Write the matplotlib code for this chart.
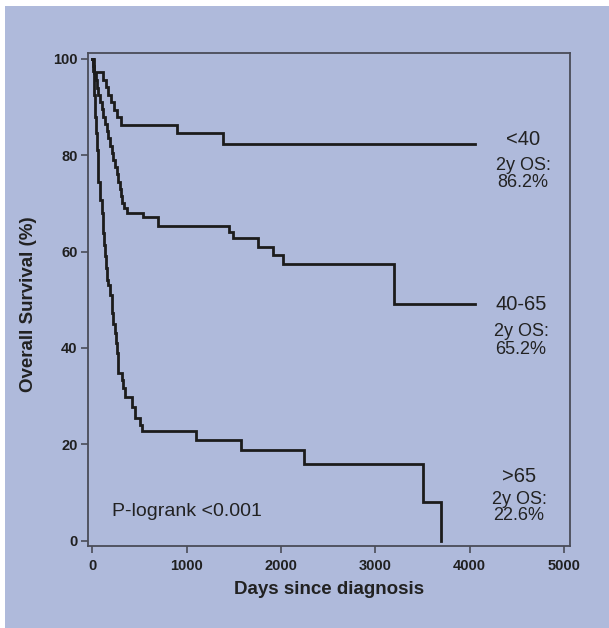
import matplotlib
matplotlib.use("Agg")
import matplotlib.pyplot as plt
from matplotlib.patches import Rectangle

# Kaplan-Meier step data (days, survival % after event)
days_lt40 = [0, 15, 117, 140, 165, 195, 230, 265, 305, 895, 1389, 4057]
surv_lt40 = [100, 97.2, 95.6, 94.1, 92.5, 91.0, 89.4, 87.9, 86.3, 84.6, 82.4, 82.4]

days_mid = [0, 10, 21, 35, 50, 64, 80, 99, 117, 135, 152, 170, 188, 205, 223,
            241, 258, 276, 290, 300, 311, 335, 364, 540, 700, 1452, 1488,
            1760, 1919, 2018, 3201, 4057]
surv_mid = [100, 98.5, 97.0, 95.5, 94.0, 92.5, 91.0, 89.5, 88.0, 86.5, 85.0,
            83.5, 82.0, 80.5, 79.0, 77.5, 76.0, 74.5, 73.0, 71.5, 70.0, 69.0,
            68.0, 67.1, 65.3, 64.0, 62.8, 61.0, 59.3, 57.4, 49.1, 49.1]

days_gt65 = [0, 8, 15, 21, 29, 38, 47, 55, 64, 82, 99, 108, 117, 126, 135,
             145, 152, 170, 188, 205, 223, 241, 250, 258, 268, 276, 311, 330,
             347, 420, 452, 505, 530, 1099, 1573, 2244, 3502, 3696]
surv_gt65 = [100, 97.5, 95.0, 92.5, 88.0, 84.5, 81.1, 77.5, 74.5, 70.7, 68.0,
             65.8, 63.8, 61.4, 59.0, 56.5, 54.1, 53.0, 51.0, 47.2, 45.0, 43.0,
             41.0, 38.9, 36.8, 34.8, 33.4, 31.6, 29.9, 27.8, 25.4, 24.0, 22.8,
             20.9, 18.8, 15.9, 8.0, 0.0]

groups = ["<40", "40-65", ">65"]
os2y = ["86.2%", "65.2%", "22.6%"]

xticks = [0, 1000, 2000, 3000, 4000, 5000]
yticks = [0, 20, 40, 60, 80, 100]

W, H = 609, 628
bg = "#afbadb"
ink = "#1c1c1c"
axcol = "#4a4c58"

plt.rcParams["font.family"] = ["Liberation Sans", "DejaVu Sans"]

def px(x, y):
    return x / W, 1 - y / H

#_____________________________________________________________________________
def main():

    fig = plt.figure(figsize=(W / 100, H / 100), dpi=100)
    fig.patch.set_facecolor("white")
    fig.patches.append(Rectangle((5 / W, -0.5), 2, 1.5 - 6 / H, transform=fig.transFigure,
                                 facecolor=bg, edgecolor="none", zorder=-10))

    ax = fig.add_axes([88 / W, 1 - 546 / H, (570 - 88) / W, (546 - 53) / H])
    ax.set_facecolor(bg)

    for d, s in [(days_lt40, surv_lt40), (days_mid, surv_mid), (days_gt65, surv_gt65)]:
        ax.step(d, s, where="post", color=ink, lw=2.0, solid_joinstyle="miter")

    ax.set_xlim(-46, 5063)
    ax.set_ylim(-1.1, 101.2)
    ax.set_xticks(xticks)
    ax.set_yticks(yticks)
    ax.tick_params(axis="both", direction="out", length=5, width=1.2, color=axcol,
                   labelsize=10.5, labelcolor="#202020")
    ax.tick_params(axis="x", pad=4)
    ax.tick_params(axis="y", pad=2.5)
    for lab in ax.get_xticklabels() + ax.get_yticklabels():
        lab.set_fontweight("bold")
    for sp in ax.spines.values():
        sp.set_color(axcol)
        sp.set_linewidth(1.3)

    fig.text(*px(329, 590), "Days since diagnosis", fontsize=13.5, fontweight="bold",
             color="#222222", ha="center", va="center")
    fig.text(*px(29, 304), "Overall Survival (%)", fontsize=13.5, fontweight="bold",
             color="#222222", ha="center", va="center", rotation=90)

    fig.text(*px(187, 512), "P-logrank <0.001", fontsize=14, color="#222222",
             ha="center", va="center")

    # group labels with 2-year OS
    pos = [(523, 140, 165, 182), (521, 305, 332, 350), (519, 476, 499, 516)]
    for g, o, (xc, y1, y2, y3) in zip(groups, os2y, pos):
        fig.text(*px(xc, y1), g, fontsize=14.5, color="#222222", ha="center", va="center")
        fig.text(*px(xc, y2), "2y OS:", fontsize=13, color="#222222", ha="center", va="center")
        fig.text(*px(xc, y3), o, fontsize=13, color="#222222", ha="center", va="center")

    fig.savefig("out.png", dpi=100, facecolor=fig.get_facecolor())
    plt.close()

#_____________________________________________________________________________
if __name__ == "__main__":
    main()
